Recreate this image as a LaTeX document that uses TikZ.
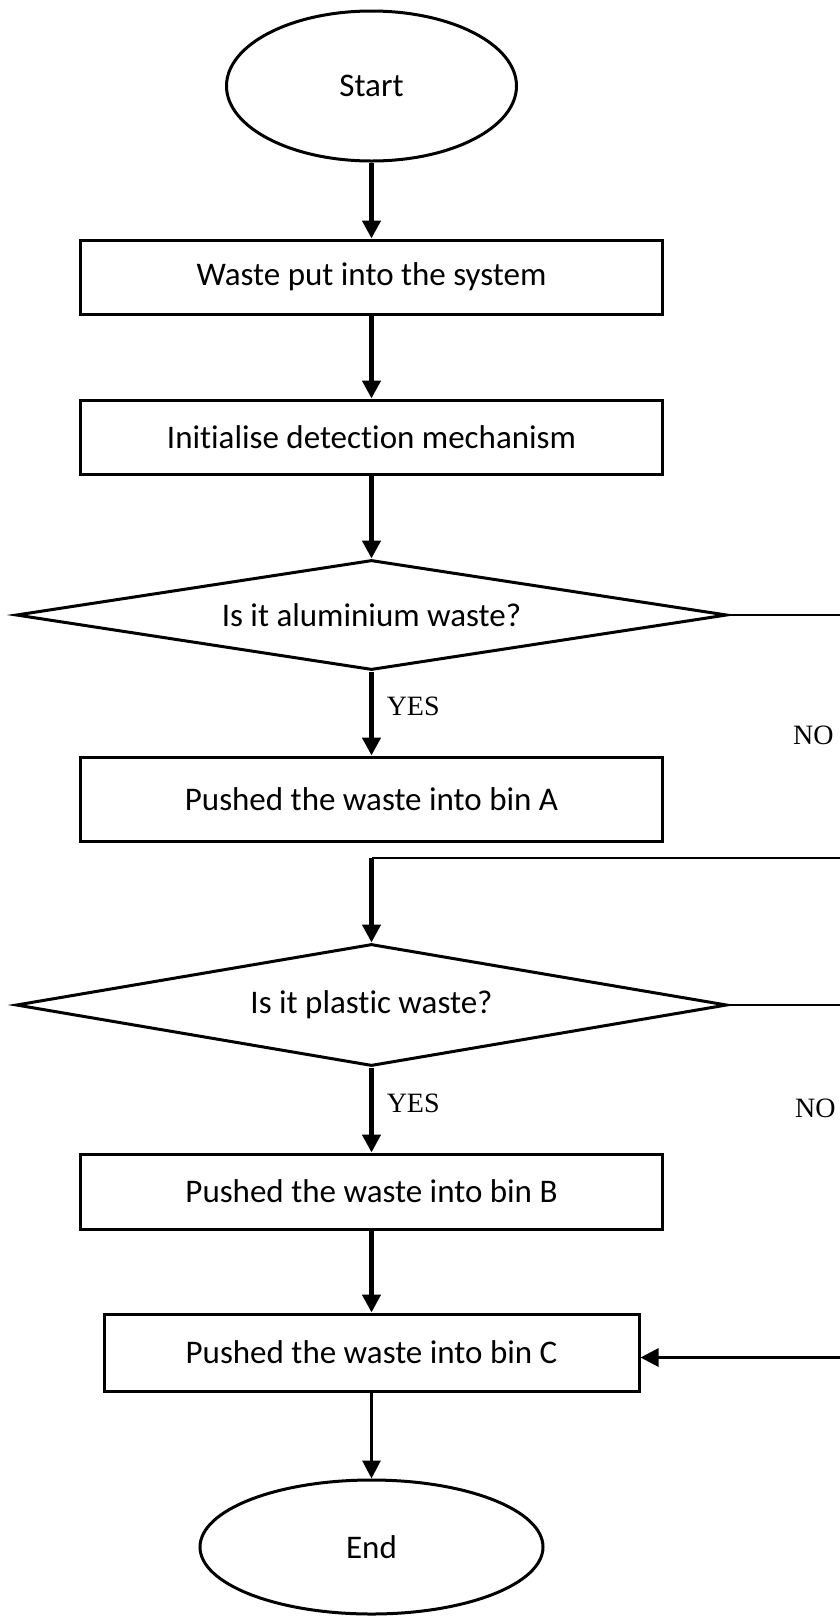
\documentclass[tikz,border=0pt]{standalone}
\usepackage{fontspec}
\setmainfont[Ligatures=NoCommon]{Carlito}
\newfontfamily\timesfont{Liberation Serif}
\usetikzlibrary{arrows.meta,positioning,calc,shapes.geometric}

\begin{document}
\begin{tikzpicture}[
      x=1pt, y=1pt,
      font=\fontsize{33}{38}\selectfont,
      node distance=83pt,
      term/.style={draw, ellipse, line width=3pt, minimum width=290pt,
                   minimum height=150pt, inner sep=0pt},
      proc/.style={draw, line width=3pt, minimum width=582pt,
                   minimum height=74pt, inner sep=0pt},
      dec/.style={draw, diamond, aspect=6.5, line width=3pt, minimum width=711pt,
                  minimum height=110pt, inner sep=0pt},
      lbl/.style={font=\timesfont\fontsize{28}{32}\selectfont, inner sep=0pt},
      arr/.style={-{Triangle[length=18pt, width=18pt]}, line width=4.5pt},
      sarr/.style={-{Triangle[length=18pt, width=18pt]}, line width=3pt},
      noline/.style={line width=1.5pt}
    ]
    \useasboundingbox (0,0) rectangle (840,-1618);
    \node[term] (start) at (371.5,-86) {Start};
    \node[proc, below=76pt of start] (waste) {Waste put into the system};
    \node[proc] (init) [below=of waste] {Initialise detection mechanism};
    \node[dec] (alu) [below=of init] {Is it aluminium waste?};
    \node[proc, minimum height=84pt] (binA) [below=84pt of alu] {Pushed the waste into bin A};
    \node[dec, minimum height=122pt] (plastic) [below=100pt of binA] {Is it plastic waste?};
    \node[proc, minimum height=75pt] (binB) [below=85pt of plastic] {Pushed the waste into bin B};
    \node[proc, minimum width=535pt, minimum height=77pt] (binC) [below=82pt of binB] {Pushed the waste into bin C};
    \node[term, minimum width=343pt, minimum height=134pt] (end) [below=86pt of binC] {End};
    \coordinate (rim) at (840,0);
    \coordinate (loopA) at ($(binA.south)+(0,-15)$);
    \coordinate (cIn) at ($(binC.east)+(0,-5)$);
    \draw[arr] (start) -- (waste);
    \draw[arr] (waste) -- (init);
    \draw[arr] (init) -- (alu);
    \draw[arr] (alu) -- node[lbl, pos=0.42, right=13pt] (yes1) {YES} (binA);
    % NO branches run off the right edge
    \draw[noline] (alu.east) -- (alu.east -| rim);
    \node[lbl, anchor=west] (no1) at (793,-735) {NO};
    \draw[line width=2pt] (loopA -| rim) -- (loopA);
    \draw[arr] (loopA) -- (plastic.north);
    \draw[noline] (plastic.east) -- (plastic.east -| rim);
    \node[lbl, anchor=west] (no2) at (795,-1108) {NO};
    \draw[arr] (plastic) -- node[lbl, pos=0.42, right=13pt] (yes2) {YES} (binB);
    \draw[arr] (binB) -- (binC);
    \draw[sarr] (cIn -| rim) -- (cIn);
    \draw[sarr] (binC) -- (end);
  \end{tikzpicture}
\end{document}
